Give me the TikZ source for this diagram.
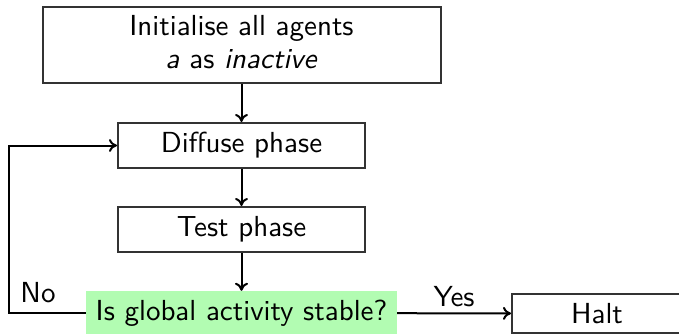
\documentclass[tikz,border=0pt]{standalone}
\usetikzlibrary{arrows.meta}
\definecolor{decgreen}{RGB}{178,252,178}
\newcommand{\bigtxt}[1]{\scalebox{2.9}{#1}}
\begin{document}
\begin{tikzpicture}[x=1pt,y=-1pt,
  every node/.style={font=\sffamily\fontsize{10}{12}\selectfont},
  box/.style={draw=black!80, line width=2pt, inner sep=0pt, align=center},
  flow/.style={draw=black, line width=2pt, -{To[length=8pt,width=13pt]}},
  lbl/.style={inner sep=0pt}]
\useasboundingbox (0,0) rectangle (679,334);
\node[box, minimum width=398, minimum height=76] (init) at (241.5,45.5)
  {\bigtxt{\renewcommand{\arraystretch}{0.95}\begin{tabular}{@{}c@{}}Initialise all agents\\\textit{a} as \textit{inactive}\end{tabular}}};
\node[box, minimum width=247, minimum height=45] (diff) at (241.5,145.5) {\bigtxt{Diffuse phase}};
\node[box, minimum width=247, minimum height=45] (test) at (241.5,229.5) {\bigtxt{Test phase}};
\node[fill=decgreen, inner sep=0pt, minimum width=311, minimum height=44] (dec) at (241.5,313) {\bigtxt{Is global activity stable?}};
\node[box, minimum width=170, minimum height=39] (halt) at (597,313.5) {\bigtxt{Halt}};
\coordinate (lc) at (9,313);
\coordinate (lu) at (9,145.5);
\draw[flow] (init) -- (diff);
\draw[flow] (diff) -- (test);
\draw[flow] (test) -- (dec);
\draw[flow] (dec) -- (halt) node[lbl, midway, above=5pt] (yes) {\bigtxt{Yes}};
\draw[flow] (dec.west) -- (lc) -- (lu) -- (diff.west);
\node[lbl] (no) at (38,293) {\bigtxt{No}};
\end{tikzpicture}
\end{document}
